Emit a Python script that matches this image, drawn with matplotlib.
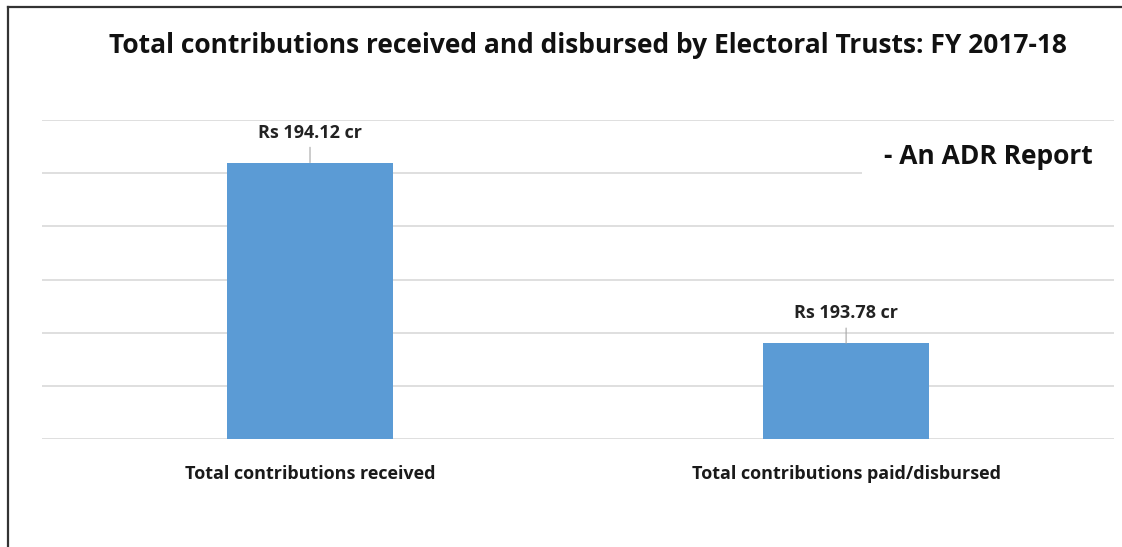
import matplotlib.pyplot as plt
from matplotlib.lines import Line2D
from matplotlib.patches import Rectangle

categories = ['Total contributions received', 'Total contributions paid/disbursed']
amounts = [194.12, 193.78]
bar_labels = ['Rs 194.12 cr', 'Rs 193.78 cr']

plt.rcParams['font.family'] = ['Open Sans', 'DejaVu Sans']

fig = plt.figure(figsize=(11.22, 5.47), dpi=100)
ax = fig.add_axes([0.0374, 0.1974, 0.9556, 0.5832])

ax.bar(range(len(categories)), amounts, width=0.31, color='#5B9BD5', zorder=3)
ax.set_xlim(-0.5, 1.5)
ax.set_ylim(193.6, 194.2)
ax.set_yticks([193.6 + 0.1 * i for i in range(7)])
ax.yaxis.grid(True, color='#D9D9D9', linewidth=1.2, zorder=0)
ax.tick_params(axis='y', left=False, labelleft=False)
ax.tick_params(axis='x', bottom=False, pad=15)
ax.set_xticks(range(len(categories)))
ax.set_xticklabels(categories, fontsize=13, fontweight='bold', color='#1a1a1a')
for s in ax.spines.values():
    s.set_visible(False)

for i, (v, lab) in enumerate(zip(amounts, bar_labels)):
    ax.annotate(lab, xy=(i, v), xytext=(0, 15), textcoords='offset points',
                ha='center', va='bottom', fontsize=13, fontweight='bold', color='#222222',
                arrowprops=dict(arrowstyle='-', color='#A6A6A6', lw=0.8, shrinkA=2, shrinkB=0))

fig.text(0.5236, 0.917, 'Total contributions received and disbursed by Electoral Trusts: FY 2017-18',
         ha='center', va='center', fontsize=19, fontweight='bold', color='#111111')

# white box behind the "An ADR Report" note hides the gridline like the original
fig.add_artist(Rectangle((862 / 1122, 1 - 190 / 547), 260 / 1122, 60 / 547,
                         transform=fig.transFigure, facecolor='white', edgecolor='none', zorder=5))
fig.text(0.788, 0.714, '- An ADR Report', ha='left', va='center', fontsize=19, fontweight='bold',
         color='#111111', zorder=6)

# frame lines of the original screenshot
fig.add_artist(Line2D([8 / 1122, 1.0], [1 - 7 / 547, 1 - 7 / 547], color='#333333', lw=1.6))
fig.add_artist(Line2D([8 / 1122, 8 / 1122], [0, 1 - 7 / 547], color='#333333', lw=1.6))

fig.savefig('out.png', dpi=100)
